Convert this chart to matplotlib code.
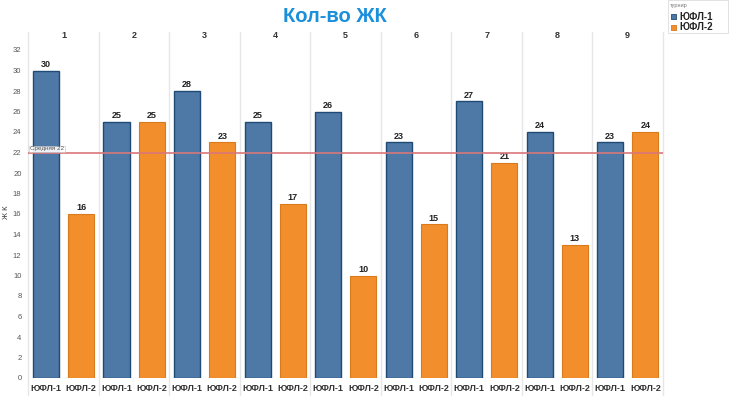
import matplotlib.pyplot as plt
import numpy as np

plt.rcParams["font.family"] = ["Liberation Sans", "DejaVu Sans"]

BLUE = "#4e79a7"
BLUE_EDGE = "#1f4a73"
ORANGE = "#f28e2b"
ORANGE_EDGE = "#d97a1c"
GRID = "#e6e6e6"
MUTED = "#555555"

rounds = ["1", "2", "3", "4", "5", "6", "7", "8", "9"]
series = ["ЮФЛ-1", "ЮФЛ-2"]
yufl1 = [30, 25, 28, 25, 26, 23, 27, 24, 23]
yufl2 = [16, 25, 23, 17, 10, 15, 21, 13, 24]
average = 22
yticks = list(range(0, 33, 2))

fig = plt.figure(figsize=(7.3, 3.96), dpi=100)
ax = fig.add_axes([28.4 / 730, 18 / 396, (663 - 28.4) / 730, (378 - 42) / 396])

n = len(rounds)
x1 = np.arange(n) * 2
x2 = x1 + 1
w = 0.74
ax.bar(x1, yufl1, w, color=BLUE, edgecolor=BLUE_EDGE, linewidth=1.0, zorder=3)
ax.bar(x2, yufl2, w, color=ORANGE, edgecolor=ORANGE_EDGE, linewidth=0.8, zorder=3)

for x, v in zip(x1, yufl1):
    ax.text(x, v + 0.15, str(v), ha="center", va="bottom", fontsize=6.5, fontweight="bold", color="#222222")
for x, v in zip(x2, yufl2):
    ax.text(x, v + 0.15, str(v), ha="center", va="bottom", fontsize=6.5, fontweight="bold", color="#222222")

ymax = (378 - 42) / 10.25
ax.set_xlim(-0.5, 2 * n - 0.5)
ax.set_ylim(0, ymax)

# panel separators
for i in range(n + 1):
    ax.plot([2 * i - 0.5, 2 * i - 0.5], [-0.18, 1.03], transform=ax.get_xaxis_transform(),
            color=GRID, linewidth=1.0, clip_on=False, zorder=1)
for i, r in enumerate(rounds):
    ax.text(2 * i + 0.5, 1.0 + 7 / 336, r, transform=ax.get_xaxis_transform(),
            ha="center", va="center", fontsize=6.5, fontweight="bold", color="#333333")

# average line
ax.axhline(average, color="#d9777a", linewidth=1.2, zorder=4)
ax.text(-0.45, average + 0.1, f"Средняя {average}", fontsize=4.5, color="#555555", va="bottom", ha="left",
        bbox=dict(boxstyle="square,pad=0.15", facecolor="white", edgecolor="#bbbbbb", linewidth=0.4, alpha=0.9),
        zorder=5)

ax.set_yticks(yticks)
ax.set_yticklabels([str(t) for t in yticks], fontsize=5.5, color=MUTED)
ax.tick_params(axis="y", length=0, pad=5)
ax.set_xticks(list(x1) + list(x2))
ax.set_xticklabels([series[0]] * n + [series[1]] * n, fontsize=6.5, fontweight="bold", color="#333333")
ax.tick_params(axis="x", length=0, pad=4)
for s in ax.spines.values():
    s.set_visible(False)
ax.axhline(0, color=GRID, linewidth=0.8, zorder=2)
ax.set_ylabel("Ж К", fontsize=5.5, color="#333333")
ax.yaxis.set_label_coords(-18.5 / 634.6, (378 - 212) / 336)

fig.text(335 / 730, 1 - 17 / 396, "Кол-во ЖК", ha="center", va="center", fontsize=14.5,
         fontweight="bold", color="#1a8fdb")

# legend
lx0 = 668 / 730
fig.patches.append(plt.Rectangle((lx0, 1 - 33 / 396), 60 / 730, 33 / 396, transform=fig.transFigure,
                                 facecolor="white", edgecolor="#dddddd", linewidth=0.6))
fig.text(670 / 730, 1 - 6 / 396, "турнир", fontsize=4, color="#777777", va="center", ha="left")
for i, (lab, c, ec) in enumerate(zip(series, [BLUE, ORANGE], [BLUE_EDGE, ORANGE_EDGE])):
    yy = 1 - (16.5 + i * 11) / 396
    fig.patches.append(plt.Rectangle((670.5 / 730, yy - 2.5 / 396), 5 / 730, 5 / 396, transform=fig.transFigure,
                                     facecolor=c, edgecolor=ec, linewidth=0.6))
    fig.text(679 / 730, yy, lab, fontsize=7, fontweight="bold", color="#222222", va="center", ha="left")

fig.savefig("out.png", dpi=100, facecolor="white")
